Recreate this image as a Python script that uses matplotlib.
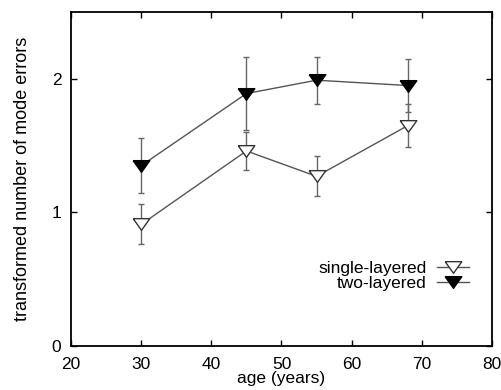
import matplotlib
matplotlib.use("Agg")
import matplotlib.pyplot as plt

plt.rcParams['font.family'] = ['Liberation Sans', 'DejaVu Sans']

# data
ages = [30, 45, 55, 68]
single_mean = [0.91, 1.46, 1.27, 1.65]
single_err = [0.15, 0.14, 0.15, 0.16]
two_mean = [1.35, 1.89, 1.99, 1.95]
two_err = [0.205, 0.27, 0.175, 0.20]

xticks = [20, 30, 40, 50, 60, 70, 80]
yticks = [0, 1, 2]

# flat, downward pointing triangle
tri = [(-1, 0.7), (1, 0.7), (0, -0.7), (-1, 0.7)]

fig = plt.figure(figsize=(5.01, 3.9), dpi=100)
ax = fig.add_axes([0.1417, 0.113, 0.8403, 0.856])

ax.errorbar(ages, single_mean, yerr=single_err, color='#555555', lw=1,
            marker=tri, ms=12, mfc='white', mec='#333333', mew=1,
            ecolor='#666666', elinewidth=1, capsize=2.5,
            label='single-layered')
ax.errorbar(ages, two_mean, yerr=two_err, color='#555555', lw=1,
            marker=tri, ms=12, mfc='black', mec='black', mew=1,
            ecolor='#666666', elinewidth=1, capsize=2.5,
            label='two-layered')

ax.set_xlim(20, 80)
ax.set_ylim(0, 2.5)
ax.set_xticks(xticks)
ax.set_yticks(yticks)
ax.tick_params(direction='in', length=4, width=1, labelsize=12.5,
               top=True, right=True)
ax.tick_params(axis='x', pad=8)
ax.tick_params(axis='y', pad=7)
for s in ax.spines.values():
    s.set_linewidth(1.3)

ax.set_xlabel('age (years)', fontsize=12.5, labelpad=-1)
ax.set_ylabel('transformed number of mode errors', fontsize=13, labelpad=15)

handles, labels = ax.get_legend_handles_labels()
handles = [h[0] for h in handles]
ax.legend(handles, labels, loc='center right', bbox_to_anchor=(0.965, 0.21),
          markerfirst=False, frameon=False, fontsize=12.5, handlelength=1.8,
          handletextpad=0.6, labelspacing=0.0, borderpad=0)

fig.savefig('out.png', dpi=100)
